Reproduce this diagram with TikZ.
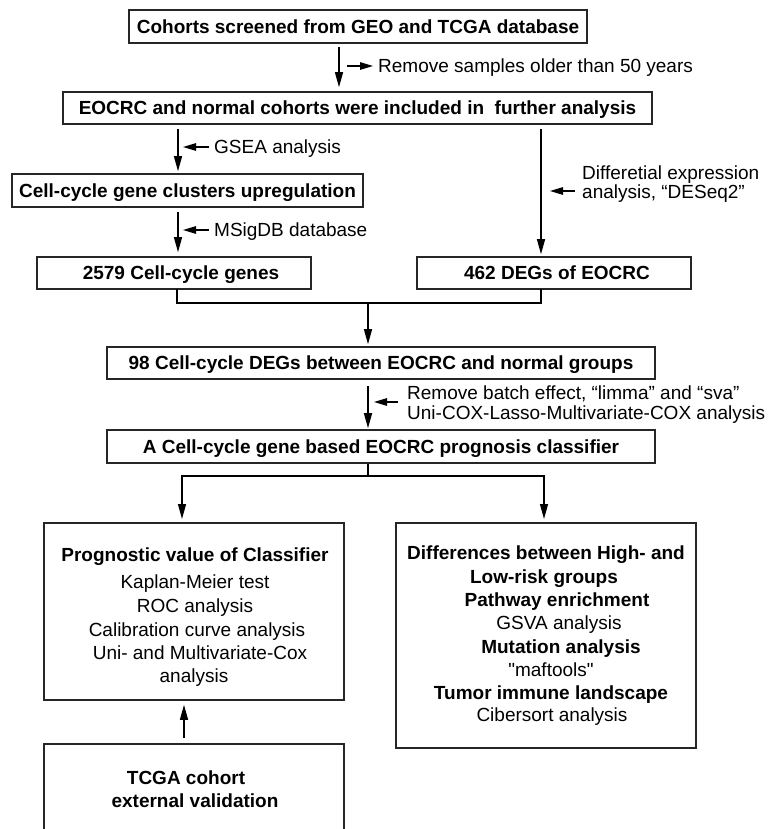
\documentclass[tikz,border=0pt]{standalone}
\usepackage{fontspec}
\setmainfont[Ligatures=TeXOff]{Liberation Sans}
\usetikzlibrary{arrows.meta}

\begin{document}
\begin{tikzpicture}[x=1pt,y=-1pt,
	box/.style={shape=rectangle,draw=black!85,line width=1.6pt,inner sep=0pt,
		text height=13.6pt,text depth=0pt,font=\fontsize{19}{23}\selectfont\bfseries},
	lbl/.style={inner sep=0pt,text height=13.6pt,text depth=0pt,font=\fontsize{19}{23}\selectfont},
	blbl/.style={lbl,font=\fontsize{19}{23}\selectfont\bfseries},
	arr/.style={-{Triangle[length=15pt,width=8pt]},line width=1.3pt},
	sarr/.style={-{Triangle[length=13pt,width=7.5pt]},line width=1.3pt},
	joint/.style={-,line width=1.3pt}]
	
	\useasboundingbox (0,0) rectangle (771,829);
	
	\node[box,minimum width=458pt,minimum height=33pt] (cohorts)    at (358,26.5)  {Cohorts screened from GEO and TCGA database};
	\node[box,minimum width=589pt,minimum height=32pt] (eocrc)      at (357.5,108) {EOCRC and normal cohorts were included in\ \ further analysis};
	\node[box,minimum width=351pt,minimum height=33pt] (clusters)   at (187.5,190.5) {Cell-cycle gene clusters upregulation};
	\node[box,minimum width=274pt,minimum height=32pt] (genes)      at (174,273)   {\hspace{14pt}2579 Cell-cycle genes};
	\node[box,minimum width=274pt,minimum height=32pt] (degs)       at (554,273)   {\hspace{6pt}462 DEGs of EOCRC};
	\node[box,minimum width=548pt,minimum height=32pt] (deg98)      at (381,363)   {98 Cell-cycle DEGs between EOCRC and normal groups};
	\node[box,minimum width=548pt,minimum height=33pt] (classifier) at (381,446.5) {A Cell-cycle gene based EOCRC prognosis classifier};
	\node[box,minimum width=300pt,minimum height=177pt] (prog)      at (194,611.5) {};
	\node[box,minimum width=300pt,minimum height=225pt] (diff)      at (546,635.5) {};
	\node[box,minimum width=300pt,minimum height=130pt] (tcga)      at (194,809)   {};
	
	% side notes
	\node[lbl,anchor=west] (remove)  at (378,66)  {Remove samples older than 50 years};
	\node[lbl,anchor=west] (gsea)    at (214,147) {GSEA analysis};
	\node[lbl,anchor=west] (msigdb)  at (214,230) {MSigDB database};
	\node[lbl,anchor=west] (deseqa)  at (582,173) {Differetial expression};
	\node[lbl,anchor=west] (deseqb)  at (582,192) {analysis, “DESeq2”};
	\node[lbl,anchor=west] (batcha)  at (407,393) {Remove batch effect, “limma” and “sva”};
	\node[lbl,anchor=west] (batchb)  at (407,413) {Uni-COX-Lasso-Multivariate-COX analysis};
	
	% prognostic box
	\node[blbl] (prog0) at (195,555) {Prognostic value of Classifier};
	\node[lbl]  (prog1) at (195,582) {Kaplan-Meier test};
	\node[lbl]  (prog2) at (195,606) {ROC analysis};
	\node[lbl]  (prog3) at (197,630) {Calibration curve analysis};
	\node[lbl]  (prog4) at (200,653) {Uni- and Multivariate-Cox};
	\node[lbl]  (prog5) at (194,676) {analysis};
	
	% differences box
	\node[blbl] (diff0) at (546,553) {Differences between High- and};
	\node[blbl] (diff1) at (544,577) {Low-risk groups};
	\node[blbl] (diff2) at (557,600) {Pathway enrichment};
	\node[lbl]  (diff3) at (559,623) {GSVA analysis};
	\node[blbl] (diff4) at (561,647) {Mutation analysis};
	\node[lbl]  (diff5) at (551,670) {"maftools"};
	\node[blbl] (diff6) at (551,693) {Tumor immune landscape};
	\node[lbl]  (diff7) at (552,715) {Cibersort analysis};
	
	% validation box
	\node[blbl] (tcga0) at (186,778) {TCGA cohort};
	\node[blbl] (tcga1) at (195,801) {external validation};
	
	\coordinate (s1) at (339,47);
	\coordinate (s2) at (178,129);
	\coordinate (s3) at (178,212);
	\coordinate (s4) at (541,129);
	\coordinate (s5) at (368,386);
	\coordinate (g1) at (177,289);
	\coordinate (g2) at (541,289);
	\coordinate (g3) at (368,303);
	\coordinate (k0) at (368,476);
	\coordinate (k1) at (182,519);
	\coordinate (k2) at (544,519);
	\coordinate (u0) at (184,738);
	\coordinate (r1) at (347,66);
	\coordinate (r4) at (575,191);
	\coordinate (r5) at (398,402);
	
	\draw[arr,shorten >=4pt] (s1) -- (s1 |- eocrc.north);
	\draw[arr,shorten >=2pt] (s2) -- (s2 |- clusters.north);
	\draw[arr,shorten >=4pt] (s3) -- (s3 |- genes.north);
	\draw[arr,shorten >=2pt] (s4) -- (s4 |- degs.north);
	\draw[joint] (g1) |- (g3) -| (g2);
	\draw[arr,shorten >=2pt] (g3) -- (g3 |- deg98.north);
	\draw[arr,shorten >=1pt] (s5) -- (s5 |- classifier.north);
	\draw[joint] (k0 |- classifier.south) -- (k0);
	\draw[arr] (k0) -| (k1);
	\draw[arr] (k0) -| (k2);
	\draw[arr,shorten >=4pt] (u0) -- (u0 |- prog.south);
	
	\draw[sarr,shorten >=5pt] (r1) -- (remove.west);
	\draw[sarr,shorten <=5pt] (gsea.west) -- ++(-31,0);
	\draw[sarr,shorten <=5pt] (msigdb.west) -- ++(-31,0);
	\draw[sarr] (r4) -- ++(-25,0);
	\draw[sarr] (r5) -- ++(-24,0);
	
\end{tikzpicture}
\end{document}
